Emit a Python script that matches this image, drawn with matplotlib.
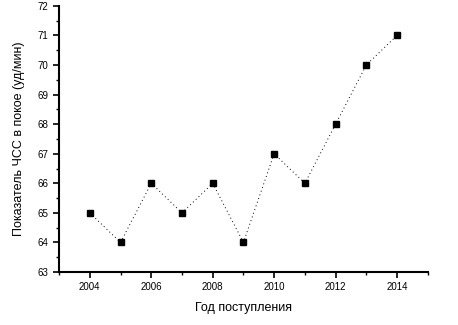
import matplotlib
matplotlib.use("Agg")
from matplotlib import pyplot as plt
from matplotlib.ticker import MultipleLocator

plt.rcParams["font.family"] = ["Liberation Sans", "DejaVu Sans"]

years = [2004, 2005, 2006, 2007, 2008, 2009, 2010, 2011, 2012, 2013, 2014]
hr = [65, 64, 66, 65, 66, 64, 67, 66, 68, 70, 71]

fig = plt.figure(figsize=(4.58, 3.25), dpi=100)
ax = fig.add_axes([0.129, 0.163, 0.805, 0.819])

ax.plot(years, hr, color="black", linestyle=(0, (1, 3)), linewidth=0.7)
ax.plot(years, hr, linestyle="none", marker="s", markersize=4.5, color="black")

ax.set_xlim(2003, 2015)
ax.set_ylim(63, 72)
ax.xaxis.set_major_locator(MultipleLocator(2))
ax.xaxis.set_minor_locator(MultipleLocator(1))
ax.yaxis.set_major_locator(MultipleLocator(1))
ax.yaxis.set_minor_locator(MultipleLocator(0.5))

for s in ["top", "right"]:
    ax.spines[s].set_visible(False)
ax.spines["left"].set_linewidth(1.5)
ax.spines["bottom"].set_linewidth(1.5)
ax.tick_params(which="major", length=4, width=1.2, labelsize=7, colors="black")
ax.tick_params(which="minor", length=2.5, width=1.0)

ax.set_xlabel("Год поступления", fontsize=9, labelpad=7)
ax.set_ylabel("Показатель ЧСС в покое (уд/мин)", fontsize=9, labelpad=9)

fig.savefig("out.png", dpi=100)
